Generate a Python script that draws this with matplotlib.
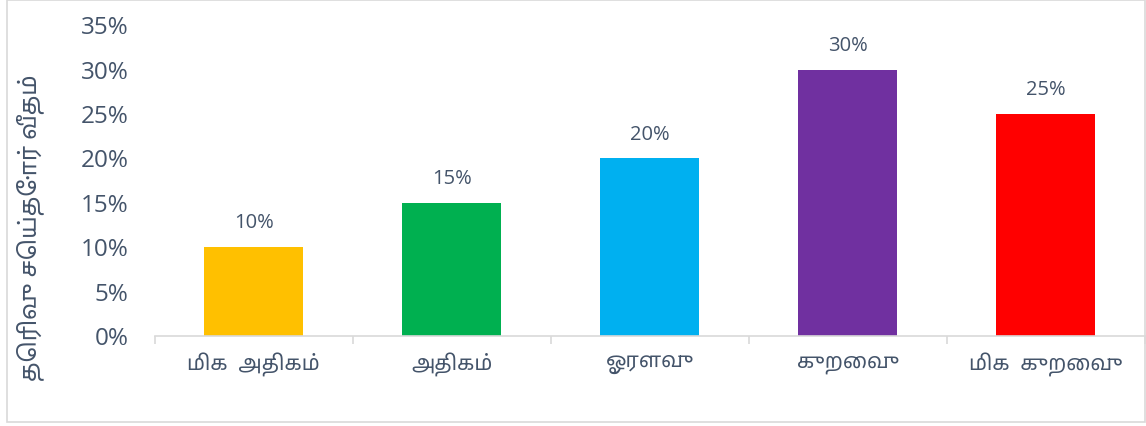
import numpy as np
import matplotlib
matplotlib.use("Agg")
import matplotlib.pyplot as plt
from matplotlib import font_manager
from matplotlib.patches import Rectangle
from matplotlib.ticker import PercentFormatter

categories = ["மிக  அதிகம்", "அதிகம்", "ஓரளவு", "குறைவு", "மிக  குறைவு"]
values = [10, 15, 20, 30, 25]
colors = ["#FFC000", "#00B050", "#00B0F0", "#7030A0", "#FF0000"]
ylabel = "தெரிவு செய்தோர் வீதம்"


def find_tamil_font():
    # pick the installed font with the best tamil coverage
    try:
        from fontTools.ttLib import TTFont
    except ImportError:
        return None
    best, best_score = None, 0
    for path in font_manager.findSystemFonts():
        try:
            f = TTFont(path, fontNumber=0, lazy=True)
            cmap = f.getBestCmap() or {}
        except Exception:
            continue
        n = sum(1 for c in range(0x0B80, 0x0C00) if c in cmap)
        if n == 0:
            continue
        name = font_manager.FontProperties(fname=path).get_name()
        score = n * 10
        if "tamil" in name.lower():
            score += 5000
        if "sans" in name.lower():
            score += 1000
        if "bold" in path.lower() or "italic" in path.lower():
            score -= 2000
        if score > best_score:
            best, best_score = name, score
    return best


tamil = find_tamil_font()
fams = ([tamil] if tamil else []) + ["Open Sans", "DejaVu Sans"]
plt.rcParams["font.family"] = fams
num_font = ["Open Sans", "DejaVu Sans"]

txt = "#44546A"

fig = plt.figure(figsize=(11.46, 4.26), dpi=100)
ax = fig.add_axes([0.135, 0.211, 0.864, 0.73])

x = np.arange(len(categories))
bars = ax.bar(x, values, width=0.5, color=colors)
for b, v in zip(bars, values):
    ax.annotate(f"{v}%", (b.get_x() + b.get_width() / 2, v), xytext=(0, 10),
                textcoords="offset points", ha="center", va="bottom",
                fontsize=14.5, color=txt, family=num_font)

ax.set_xlim(-0.5, len(categories) - 0.5)
ax.set_ylim(0, 35)
ax.set_yticks(np.arange(0, 36, 5))
ax.yaxis.set_major_formatter(PercentFormatter(decimals=0))
ax.set_xticks(x)
ax.set_xticklabels(categories, fontsize=15, color=txt)
ax.set_xticks(np.arange(-0.5, len(categories)), minor=True)
ax.tick_params(axis="x", which="major", length=0, pad=12)
ax.tick_params(axis="x", which="minor", length=6, color="#D9D9D9", width=1.2)
ax.tick_params(axis="y", length=0, pad=19, labelsize=17.5, labelcolor=txt)
for lab in ax.get_yticklabels():
    lab.set_family(num_font)

for s in ["top", "right", "left"]:
    ax.spines[s].set_visible(False)
ax.spines["bottom"].set_color("#D9D9D9")
ax.spines["bottom"].set_linewidth(1.2)

ylab = fig.text(0.026, 0.465, ylabel, rotation=90, ha="center", va="center",
                fontsize=17, color=txt)

# shrink the axis title until it fits the span used in the original (~315 px)
renderer = fig.canvas.get_renderer()
h = ylab.get_window_extent(renderer).height
if h > 318:
    ylab.set_fontsize(17 * 318 / h)

# same for the category labels, keep them inside their slot
for lab in ax.get_xticklabels():
    w = lab.get_window_extent(renderer).width
    if w > 180:
        lab.set_fontsize(15 * 180 / w)

fig.patches.append(Rectangle((7 / 1146, 4 / 426), 1 - 8 / 1146, 1 - 4 / 426,
                             transform=fig.transFigure, fill=False,
                             edgecolor="#D9D9D9", linewidth=1.2))

fig.savefig("out.png", dpi=100)
